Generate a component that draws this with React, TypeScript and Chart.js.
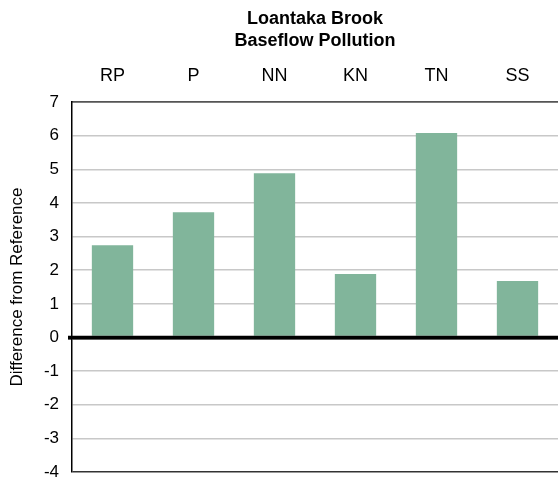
import React, { useEffect, useRef } from "react";
import { Chart, registerables } from "chart.js";

Chart.register(...registerables);

const categories = ["RP", "P", "NN", "KN", "TN", "SS"];
const values = [2.74, 3.72, 4.88, 1.89, 6.08, 1.68];
const titleLines = ["Loantaka Brook", "Baseflow Pollution"];
const yAxisTitle = "Difference from Reference";
const yMin = -4;
const yMax = 7;

const FONT = "'Liberation Sans', Arial, Helvetica, sans-serif";

export default function App() {
  const ref = useRef<HTMLCanvasElement | null>(null);

  useEffect(() => {
    document.body.style.margin = "0";
    const canvas = ref.current;
    if (!canvas) return;
    const gridColor = (ctx: any) => {
      const v = ctx.tick ? ctx.tick.value : null;
      if (v === 0) return "#000";
      if (v === yMin) return "#333";
      if (v === yMax) return "#555";
      return "rgb(200,200,200)";
    };
    const chart = new Chart(canvas, {
      type: "bar",
      data: {
        labels: categories,
        datasets: [
          {
            data: values,
            backgroundColor: "#81b59b",
            borderWidth: 0,
            categoryPercentage: 1,
            barPercentage: 0.51,
          },
        ],
      },
      options: {
        animation: false,
        responsive: false,
        maintainAspectRatio: false,
        layout: { padding: { left: 0, right: 0, top: 0, bottom: 7 } },
        plugins: {
          legend: { display: false },
          tooltip: { enabled: false },
          title: {
            display: true,
            text: titleLines,
            fullSize: false,
            color: "#000",
            font: { family: FONT, size: 18, weight: "bold", lineHeight: 1.22 },
            padding: { top: 8, bottom: 0 },
          },
        },
        scales: {
          x: {
            position: "top",
            grid: { display: false, drawTicks: false },
            border: { display: true, color: "#555", width: 1.5 },
            ticks: {
              color: "#000",
              font: { family: FONT, size: 18 },
              padding: 15,
              maxRotation: 0,
            },
            afterFit: (scale: any) => {
              scale.height = 102 - 8 - 2 * 18 * 1.22;
            },
          },
          y: {
            min: yMin,
            max: yMax,
            grid: {
              color: gridColor,
              lineWidth: (ctx: any) => (ctx.tick && ctx.tick.value === 0 ? 3.5 : 1.5),
              drawTicks: true,
              tickLength: 4,
              tickColor: (ctx: any) =>
                ctx.tick && ctx.tick.value === 0 ? "#000" : "rgba(0,0,0,0)",
              z: 0,
            },
            border: { display: true, color: "#000", width: 1.5 },
            ticks: {
              stepSize: 1,
              color: "#000",
              font: { family: FONT, size: 17 },
              padding: 9,
            },
            title: {
              display: true,
              text: yAxisTitle,
              color: "#000",
              font: { family: FONT, size: 17 },
              padding: { top: 7, bottom: 0 },
            },
            afterFit: (scale: any) => {
              scale.width = 72;
              scale.paddingBottom = 0;
              scale.paddingTop = 0;
            },
          },
        },
      },
      plugins: [
        {
          id: "zeroLineOnTop",
          afterDatasetsDraw(c: any) {
            const y = c.scales.y.getPixelForValue(0);
            const ctx = c.ctx;
            ctx.save();
            ctx.strokeStyle = "#000";
            ctx.lineWidth = 3.5;
            ctx.beginPath();
            ctx.moveTo(c.chartArea.left - 4, y);
            ctx.lineTo(c.chartArea.right, y);
            ctx.stroke();
            ctx.restore();
          },
        },
      ],
    });
    return () => chart.destroy();
  }, []);

  return (
    <div style={{ position: "absolute", left: 0, top: 0, width: 558, height: 479 }}>
      <canvas ref={ref} width={558} height={479} style={{ width: 558, height: 479 }} />
    </div>
  );
}
